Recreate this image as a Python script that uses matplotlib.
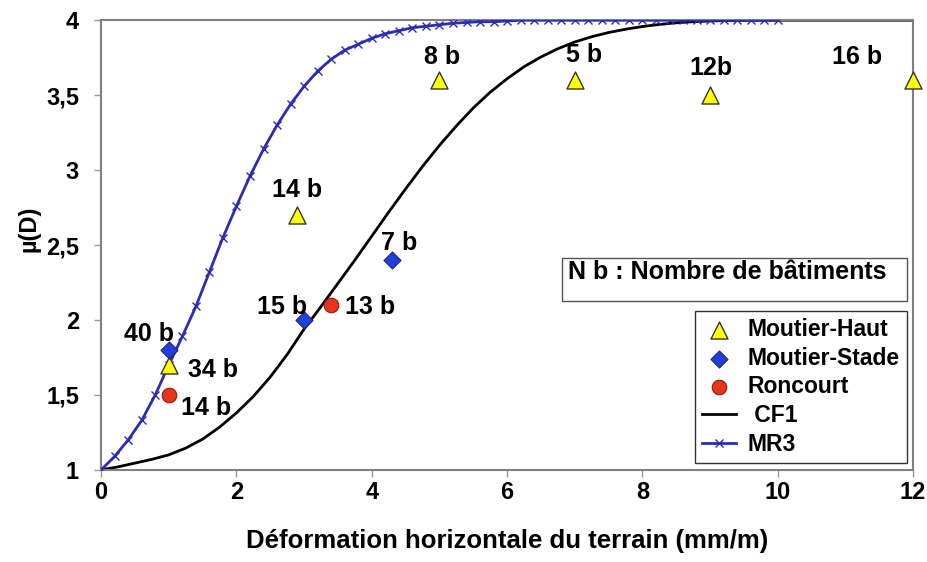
import numpy as np
import matplotlib.pyplot as plt
from matplotlib.patches import Rectangle
from matplotlib.ticker import FixedLocator

plt.rcParams['font.family'] = ['Liberation Sans', 'DejaVu Sans']
plt.rcParams['font.weight'] = 'bold'

### data
# MR3 model, one marker every 0.2 mm/m
mr3_x = [0.0, 0.2, 0.4, 0.6, 0.8, 1.0, 1.2, 1.4, 1.6, 1.8,
         2.0, 2.2, 2.4, 2.6, 2.8, 3.0, 3.2, 3.4, 3.6, 3.8,
         4.0, 4.2, 4.4, 4.6, 4.8, 5.0, 5.2, 5.4, 5.6, 5.8,
         6.0, 6.2, 6.4, 6.6, 6.8, 7.0, 7.2, 7.4, 7.6, 7.8,
         8.0, 8.2, 8.4, 8.6, 8.8, 9.0, 9.2, 9.4, 9.6, 9.8, 10.0]
mr3_y = [1.00, 1.09, 1.20, 1.33, 1.50, 1.70, 1.89, 2.09, 2.32, 2.55,
         2.76, 2.96, 3.14, 3.30, 3.44, 3.56, 3.66, 3.74, 3.80, 3.84,
         3.88, 3.91, 3.93, 3.95, 3.96, 3.97, 3.98, 3.985, 3.99, 3.99,
         3.995, 4.0, 4.0, 4.0, 4.0, 4.0, 4.0, 4.0, 4.0, 4.0,
         4.0, 4.0, 4.0, 4.0, 4.0, 4.0, 4.0, 4.0, 4.0, 4.0, 4.0]

# CF1 curve
cf1_x = [0.0, 0.25, 0.5, 0.75, 1.0, 1.25, 1.5, 1.75, 2.0, 2.25,
         2.5, 2.75, 3.0, 3.25, 3.5, 3.75, 4.0, 4.25, 4.5, 4.75,
         5.0, 5.25, 5.5, 5.75, 6.0, 6.25, 6.5, 6.75, 7.0, 7.25,
         7.5, 7.75, 8.0, 8.25, 8.5, 8.75, 9.0, 9.5, 10.0, 11.0, 12.0]
cf1_y = [1.00, 1.02, 1.045, 1.07, 1.10, 1.145, 1.205, 1.285, 1.38, 1.49,
         1.62, 1.77, 1.94, 2.09, 2.245, 2.40, 2.56, 2.72, 2.875, 3.025,
         3.165, 3.295, 3.415, 3.52, 3.61, 3.69, 3.755, 3.81, 3.855, 3.89,
         3.918, 3.94, 3.958, 3.972, 3.983, 3.99, 3.995, 4.0, 4.0, 4.0, 4.0]

haut_x = [1, 2.9, 5, 7, 9, 12]
haut_y = [1.7, 2.7, 3.6, 3.6, 3.5, 3.6]
haut_lab = ["34 b", "14 b", "8 b", "5 b", "12b", "16 b"]

stade_x = [1, 3, 4.3]
stade_y = [1.8, 2.0, 2.4]
stade_lab = ["40 b", "15 b", "7 b"]

ronc_x = [1, 3.4]
ronc_y = [1.5, 2.1]
ronc_lab = ["14 b", "13 b"]

# label offsets in pixels (dx, dy up)
haut_off = [(44, -5), (0, 25), (3, 23), (9, 25), (1, 27), (-56, 23)]
stade_off = [(-20, 16), (-22, 13), (7, 17)]
ronc_off = [(37, -13), (39, -2)]

yticks = [1, 1.5, 2, 2.5, 3, 3.5, 4]
ytick_lab = ["1", "1,5", "2", "2,5", "3", "3,5", "4"]
xticks = [0, 2, 4, 6, 8, 10, 12]


fig = plt.figure(figsize=(9.28, 5.62), dpi=100)
ax = fig.add_axes([0.109, 0.164, 0.875, 0.8])

ax.plot(cf1_x, cf1_y, color='black', lw=2, label=' CF1', zorder=2)
ax.plot(mr3_x, mr3_y, color='#2b2bb8', lw=2, marker='x', ms=6, mew=1,
        label='MR3', zorder=3)

ax.scatter(haut_x, haut_y, marker='^', s=150, c='#ffff00', edgecolors='#333333',
           linewidths=1, zorder=4, label='Moutier-Haut', clip_on=False)
ax.scatter(stade_x, stade_y, marker='D', s=75, c='#1f3fe0', edgecolors='#222266',
           linewidths=0.8, zorder=5, label='Moutier-Stade', clip_on=False)
ax.scatter(ronc_x, ronc_y, marker='o', s=110, c='#e8341c', edgecolors='#8a1a10',
           linewidths=0.8, zorder=5, label='Roncourt', clip_on=False)

for xs, ys, labs, offs in [(haut_x, haut_y, haut_lab, haut_off),
                           (stade_x, stade_y, stade_lab, stade_off),
                           (ronc_x, ronc_y, ronc_lab, ronc_off)]:
	for x, y, t, o in zip(xs, ys, labs, offs):
		ax.annotate(t, (x, y), xytext=o, textcoords='offset pixels',
		            ha='center', va='center', fontsize=18, fontweight='bold',
		            zorder=6)

ax.set_xlim(0, 12)
ax.set_ylim(1, 4)
ax.xaxis.set_major_locator(FixedLocator(xticks))
ax.yaxis.set_major_locator(FixedLocator(yticks))
ax.set_yticklabels(ytick_lab)
ax.tick_params(axis='both', direction='out', length=5, width=1, color='#999999',
               labelsize=17)
ax.tick_params(axis='x', pad=3)
ax.tick_params(axis='y', pad=11)
for lab in ax.get_xticklabels() + ax.get_yticklabels():
	lab.set_fontweight('bold')
for s in ax.spines.values():
	s.set_color('#808080')
	s.set_linewidth(1.5)

ax.set_xlabel('Déformation horizontale du terrain (mm/m)', fontsize=18.5,
              fontweight='bold', labelpad=18)
ax.set_ylabel('µ(D)', fontsize=17, fontweight='bold')
ax.yaxis.set_label_coords(-0.075, 0.536)

# N b box
ax.add_patch(Rectangle((0.568, 0.376), 0.425, 0.095, transform=ax.transAxes,
                       fill=False, edgecolor='#555555', lw=1, zorder=6))
ax.text(0.575, 0.44, 'N b : Nombre de bâtiments', transform=ax.transAxes,
        fontsize=18, fontweight='bold', va='center', ha='left', zorder=7)

h, l = ax.get_legend_handles_labels()
order = [2, 3, 4, 0, 1]
leg = ax.legend([h[i] for i in order], [l[i] for i in order], loc='lower right',
                bbox_to_anchor=(0.992, 0.016), borderaxespad=0, fancybox=False,
                framealpha=1, edgecolor='#333333',
                prop={'weight': 'bold', 'size': 16.5}, handlelength=1.5,
                handletextpad=0.5, labelspacing=0.25, borderpad=0.3)
leg.get_frame().set_linewidth(1)

fig.savefig('out.png', dpi=100)
